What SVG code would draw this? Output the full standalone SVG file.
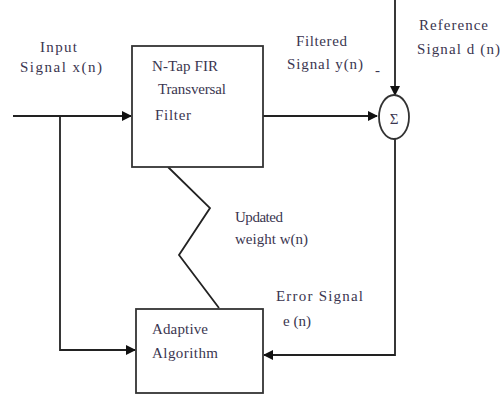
<svg xmlns="http://www.w3.org/2000/svg" width="502" height="394" viewBox="0 0 502 394">
<style>
.t{font-family:"Liberation Serif","Times New Roman",serif;font-size:15px;fill:#3b3650}
.ln{stroke:#222;stroke-width:1.8;fill:none}
.bx{stroke:#333;stroke-width:1.8;fill:#fff}
</style>
<defs>
<marker id="ah" markerWidth="10" markerHeight="10" refX="9" refY="5" orient="auto" markerUnits="userSpaceOnUse">
<path d="M0,0 L10,5 L0,10 Z" fill="#111"/>
</marker>
</defs>
<rect width="502" height="394" fill="#fff"/>
<g id="connectors">
<path class="ln" d="M13,116 H131" marker-end="url(#ah)"/>
<path class="ln" d="M60,116 V350 H135" marker-end="url(#ah)"/>
<path class="ln" d="M263,116 H377" marker-end="url(#ah)"/>
<path class="ln" d="M395,0 V95" marker-end="url(#ah)"/>
<path class="ln" d="M395,139 V355 H264" marker-end="url(#ah)"/>
<path class="ln" d="M168,167 L210,208 L179,255 L219,308"/>
</g>
<g id="fir">
<rect class="bx" x="132" y="46" width="131" height="121"/>
<text class="t" x="152" y="71" textLength="66" lengthAdjust="spacing">N-Tap FIR</text>
<text class="t" x="158" y="94" textLength="68" lengthAdjust="spacing">Transversal</text>
<text class="t" x="155" y="120" textLength="36" lengthAdjust="spacing">Filter</text>
</g>
<g id="sum">
<ellipse class="bx" cx="394" cy="117" rx="15" ry="22"/>
<text class="t" x="394" y="124" text-anchor="middle" font-size="18">Σ</text>
</g>
<g id="adaptive">
<rect class="bx" x="136" y="309" width="127" height="84"/>
<text class="t" x="152" y="334" textLength="56" lengthAdjust="spacing">Adaptive</text>
<text class="t" x="152" y="358" textLength="66" lengthAdjust="spacing">Algorithm</text>
</g>
<g id="labels">
<text class="t" x="40" y="52" textLength="37" lengthAdjust="spacing">Input</text>
<text class="t" x="20" y="72" textLength="82" lengthAdjust="spacing">Signal  x(n)</text>
<text class="t" x="296" y="46" textLength="51" lengthAdjust="spacing">Filtered</text>
<text class="t" x="287" y="69" textLength="76" lengthAdjust="spacing">Signal y(n)</text>
<text class="t" x="375" y="75">-</text>
<text class="t" x="419" y="30" textLength="69" lengthAdjust="spacing">Reference</text>
<text class="t" x="417" y="54" textLength="83" lengthAdjust="spacing">Signal d (n)</text>
<text class="t" x="235" y="222" textLength="48" lengthAdjust="spacing">Updated</text>
<text class="t" x="235" y="244" textLength="73" lengthAdjust="spacing">weight w(n)</text>
<text class="t" x="276" y="301" textLength="87" lengthAdjust="spacing">Error Signal</text>
<text class="t" x="283" y="326" textLength="28" lengthAdjust="spacing">e (n)</text>
</g>
</svg>
